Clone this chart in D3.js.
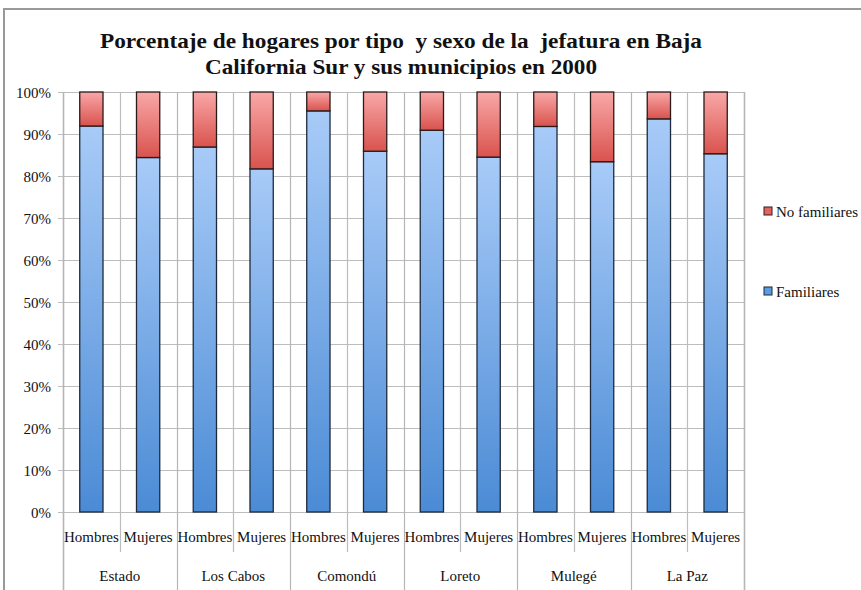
<!DOCTYPE html>
<html>
<head>
<meta charset="utf-8">
<script src="https://cdn.jsdelivr.net/npm/d3@7"></script>
<style>
  body { margin: 0; background: #fff; }
  text { font-family: "Liberation Serif", "Times New Roman", serif; fill: #111; }
</style>
</head>
<body>
<svg id="chart" width="861" height="590"></svg>
<script>
const municipios = ['Estado', 'Los Cabos', 'Comondú', 'Loreto', 'Mulegé', 'La Paz'];
const sexos = ['Hombres', 'Mujeres'];
// percent per bar, in order Estado H, Estado M, Los Cabos H, ...
const familiares   = [91.9, 84.4, 86.9, 81.7, 95.5, 85.9, 90.9, 84.5, 91.8, 83.4, 93.6, 85.3];
const noFamiliares = [8.1, 15.6, 13.1, 18.3, 4.5, 14.1, 9.1, 15.5, 8.2, 16.6, 6.4, 14.7];
const yTicks = [0, 10, 20, 30, 40, 50, 60, 70, 80, 90, 100];
const series = ['Familiares', 'No familiares'];
const titleLines = ['Porcentaje de hogares por tipo  y sexo de la  jefatura en Baja',
                    'California Sur y sus municipios en 2000'];

const svg = d3.select('#chart');
const plotLeft = 63, plotRight = 744, plotTop = 92, plotBottom = 512;

// build rows from the arrays
const rows = [];
municipios.forEach((m, i) => {
    sexos.forEach((s, j) => {
        const k = i * 2 + j;
        rows.push({ key: m + '|' + s, municipio: m, sexo: s, fam: familiares[k], nofam: noFamiliares[k] });
    });
});

const x = d3.scaleBand().domain(rows.map(d => d.key)).range([plotLeft, plotRight]).padding(0);
const y = d3.scaleLinear().domain([0, 100]).range([plotBottom, plotTop]);
const barW = x.bandwidth() * 0.41;

// gradients
const defs = svg.append('defs');
function grad(id, c1, c2) {
    const g = defs.append('linearGradient').attr('id', id)
        .attr('x1', 0).attr('y1', 0).attr('x2', 0).attr('y2', 1);
    g.append('stop').attr('offset', '0%').attr('stop-color', c1);
    g.append('stop').attr('offset', '100%').attr('stop-color', c2);
}
grad('gBlue', '#a8cbf8', '#4b8bd5');
grad('gRed', '#f9a8a8', '#d9534e');

// outer frame
svg.append('rect')
    .attr('x', 4).attr('y', 9).attr('width', 900).attr('height', 620)
    .attr('fill', 'none').attr('stroke', '#999').attr('stroke-width', 2);

// title (keeps the double spaces of the original)
svg.append('g').selectAll('text')
    .data(titleLines)
    .enter().append('text')
    .attr('x', 401)
    .attr('y', (d, i) => 48 + i * 26)
    .attr('text-anchor', 'middle')
    .style('font-size', '22px')
    .style('font-weight', 'bold')
    .style('white-space', 'pre')
    .attr('xml:space', 'preserve')
    .attr('textLength', (d, i) => i === 0 ? 602 : 392)
    .attr('lengthAdjust', 'spacingAndGlyphs')
    .text(d => d);

// horizontal grid
svg.append('g').selectAll('line')
    .data(yTicks)
    .enter().append('line')
    .attr('x1', plotLeft - 5).attr('x2', plotRight)
    .attr('y1', d => Math.round(y(d)) + 0.5).attr('y2', d => Math.round(y(d)) + 0.5)
    .attr('stroke', '#bdbdbd').attr('stroke-width', 1.2);

// vertical grid at every slot boundary (plus extension into the label area)
const bounds = rows.map(d => x(d.key)).concat([plotRight]);
svg.append('g').selectAll('line')
    .data(bounds)
    .enter().append('line')
    .attr('x1', d => Math.round(d) + 0.5).attr('x2', d => Math.round(d) + 0.5)
    .attr('y1', plotTop)
    .attr('y2', (d, i) => i % 2 === 0 ? 592 : 552)
    .attr('stroke', (d, i) => i % 2 === 0 ? '#b5b5b5' : '#bdbdbd')
    .attr('stroke-width', (d, i) => (i === 0 || i === bounds.length - 1) ? 1.6 : 1.2);

// y axis labels
const yAxis = d3.axisLeft(y).tickValues(yTicks).tickFormat(d => d + '%').tickSize(0).tickPadding(0);
const ya = svg.append('g').attr('transform', `translate(${plotLeft - 12},0)`).call(yAxis);
ya.select('.domain').remove();
ya.selectAll('text')
    .style('font-family', '"Liberation Serif", serif')
    .style('font-size', '15px')
    .attr('fill', '#222')
    .attr('dy', '0.35em');

// bars
const barG = svg.append('g').selectAll('g')
    .data(rows)
    .enter().append('g')
    .attr('transform', d => `translate(${x(d.key) + (x.bandwidth() - barW) / 2},0)`);

barG.append('rect')
    .attr('x', 0).attr('width', barW)
    .attr('y', d => y(d.fam))
    .attr('height', d => y(0) - y(d.fam))
    .attr('fill', 'url(#gBlue)')
    .attr('stroke', '#1e2a3a').attr('stroke-width', 1.3);

barG.append('rect')
    .attr('x', 0).attr('width', barW)
    .attr('y', d => y(d.fam + d.nofam))
    .attr('height', d => y(d.fam) - y(d.fam + d.nofam))
    .attr('fill', 'url(#gRed)')
    .attr('stroke', '#2a1a1a').attr('stroke-width', 1.3);

// category labels
svg.append('g').selectAll('text')
    .data(rows)
    .enter().append('text')
    .attr('x', d => x(d.key) + x.bandwidth() / 2)
    .attr('y', 542)
    .attr('text-anchor', 'middle')
    .style('font-size', '15px')
    .text(d => d.sexo);

svg.append('g').selectAll('text')
    .data(municipios)
    .enter().append('text')
    .attr('x', (d, i) => x(d + '|Hombres') + x.bandwidth())
    .attr('y', 581)
    .attr('text-anchor', 'middle')
    .style('font-size', '15px')
    .text(d => d);

// legend
const legendItems = [
    { name: series[1], fill: '#e06462', stroke: '#3a1a1a', y: 211 },
    { name: series[0], fill: '#5b9be2', stroke: '#1a2a3a', y: 291 }
];
const lg = svg.append('g').selectAll('g')
    .data(legendItems)
    .enter().append('g')
    .attr('transform', d => `translate(764,${d.y})`);
lg.append('rect')
    .attr('x', 0).attr('y', -4).attr('width', 8).attr('height', 8)
    .attr('fill', d => d.fill).attr('stroke', d => d.stroke).attr('stroke-width', 1);
lg.append('text')
    .attr('x', 12).attr('y', 6)
    .style('font-size', '15px')
    .text(d => d.name);
</script>
</body>
</html>
